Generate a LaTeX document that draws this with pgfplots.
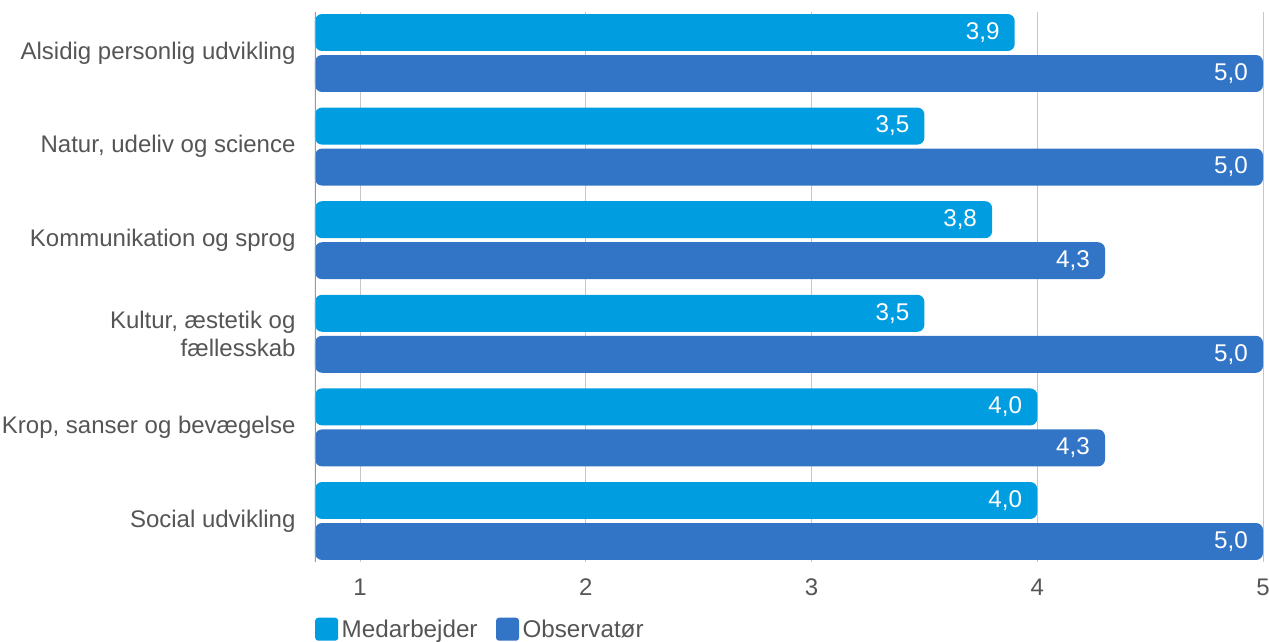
\documentclass[border=0pt]{standalone}
\usepackage{pgfplots}
\pgfplotsset{compat=1.18}
\usepackage{fontspec}
\setmainfont{Liberation Sans}
\definecolor{lb}{RGB}{0,158,224}
\definecolor{db}{RGB}{50,116,198}
\definecolor{txt}{RGB}{85,85,85}
\begin{document}
\begin{tikzpicture}
\useasboundingbox (0,0) rectangle (1269pt,642pt);
\begin{axis}[
 at={(315pt,80pt)}, anchor=south west,
 scale only axis, width=948pt, height=550pt,
 xbar, xmin=0.8, xmax=5, ymin=-0.438, ymax=5.438,
 bar width=0.395,
 axis line style={draw=none},
 xtick={1,2,3,4,5}, ytick={0,1,2,3,4,5},
 yticklabels={{Social udvikling},{Krop, sanser og bevægelse},{Kultur, æstetik og\\fællesskab},{Kommunikation og sprog},{Natur, udeliv og science},{Alsidig personlig udvikling}},
 major tick length=0pt,
 xmajorgrids, grid style={draw=black!22, line width=1pt},
 tick label style={font=\fontsize{24}{28.5}\selectfont, text=txt},
 yticklabel style={align=right, xshift=-16pt},
 xticklabel style={yshift=-13pt},
 /pgf/number format/assume math mode=true,
 nodes near coords,
 nodes near coords style={/pgf/number format/.cd, use comma, fixed, fixed zerofill, precision=1, assume math mode=true, /tikz/.cd, anchor=east, xshift=-15pt, inner sep=0pt, text=white, font=\fontsize{24.2}{28}\selectfont},
 legend style={at={(0,0)}, anchor=north west, yshift=-54pt, draw=none, fill=none, inner sep=0pt, font=\fontsize{24.2}{28}\selectfont, text=txt, nodes={inner sep=3.5pt}, /tikz/every even column/.append style={column sep=15pt}},
 legend columns=2,
 legend cell align=left,
 legend image code/.code={\fill[rounded corners=3pt] (0pt,-11.5pt) rectangle (23pt,11.5pt);},
]
\addplot[fill=lb, draw=none, rounded corners=7pt, bar shift=0.219] coordinates {(3.9,5) (3.5,4) (3.8,3) (3.5,2) (4.0,1) (4.0,0)};
\addplot[fill=db, draw=none, rounded corners=7pt, bar shift=-0.219] coordinates {(5.0,5) (5.0,4) (4.3,3) (5.0,2) (4.3,1) (5.0,0)};
\legend{Medarbejder, Observatør}
\draw[color=black!40, line width=2.5pt] (rel axis cs:0,0) -- (rel axis cs:0,1);
\end{axis}
\end{tikzpicture}
\end{document}
